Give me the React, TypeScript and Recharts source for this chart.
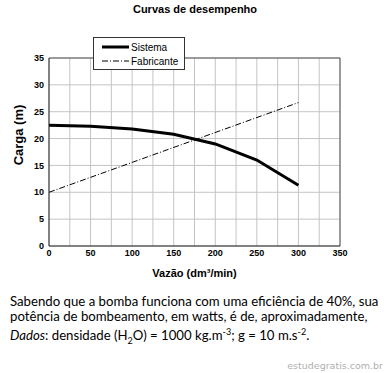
import { LineChart, Line, XAxis, YAxis, CartesianGrid, ReferenceLine, Legend } from "recharts"

const sistemaVazao = [0, 50, 100, 150, 200, 250, 300]
const sistemaCarga = [22.5, 22.3, 21.8, 20.8, 19.0, 16.0, 11.3]
const fabricanteVazao = [0, 300]
const fabricanteCarga = [10, 26.7]
const xTicks = [0, 25, 50, 75, 100, 125, 150, 175, 200, 225, 250, 275, 300, 325, 350]
const yTicks = [0, 5, 10, 15, 20, 25, 30, 35]

const sistema = sistemaVazao.map((x, i) => ({ x, y: sistemaCarga[i] }))
const fabricante = fabricanteVazao.map((x, i) => ({ x, y: fabricanteCarga[i] }))

const axisFont = { fontFamily: "Liberation Sans, Arial, sans-serif", fontSize: 9, fontWeight: 700, fill: "#000" }

function LegendBox() {
  return (
    <div style={{ width: 90, height: 31, border: "1px solid #333", background: "#fff", fontFamily: "Liberation Sans, Arial, sans-serif", fontSize: 10, color: "#000", position: "relative" }}>
      <svg width={90} height={31} style={{ position: "absolute", left: 0, top: 0 }}>
        <line x1={8} x2={35} y1={9} y2={9} stroke="#000" strokeWidth={3} />
        <line x1={8} x2={35} y1={23} y2={23} stroke="#000" strokeWidth={1} strokeDasharray="6 2 1 2" />
        <text x={37} y={12.5} fontSize={10}>Sistema</text>
        <text x={37} y={26.5} fontSize={10}>Fabricante</text>
      </svg>
    </div>
  )
}

export default function App() {
  const small = { fontSize: 9, lineHeight: 0 }
  return (
    <div style={{ position: "absolute", left: 0, top: 0, width: 390, height: 373, background: "#fff", overflow: "hidden" }}>
      <div style={{ position: "absolute", left: 0, top: 3, width: 390, textAlign: "center", fontFamily: "Liberation Sans, Arial, sans-serif", fontWeight: 700, fontSize: 11, color: "#000" }}>
        Curvas de desempenho
      </div>
      <div style={{ position: "absolute", left: 0, top: 0 }}>
        <LineChart width={390} height={290} margin={{ top: 25, right: 50, bottom: 0, left: 0 }}>
          <CartesianGrid stroke="#c4c4c4" strokeWidth={1} />
          <XAxis
            type="number"
            dataKey="x"
            domain={[0, 350]}
            ticks={xTicks}
            tickFormatter={(v: number) => (v % 50 === 0 ? String(v) : "")}
            interval={0}
            tickLine={false}
            tickSize={0}
            tickMargin={4}
            height={44}
            stroke="#222"
            tick={axisFont}
            allowDuplicatedCategory={false}
            label={{
              value: "Vazão (dm³/min)",
              position: "insideBottom",
              offset: 13,
              style: { fontFamily: "Liberation Sans, Arial, sans-serif", fontSize: 11, fontWeight: 700, fill: "#000" },
            }}
          />
          <YAxis
            type="number"
            dataKey="y"
            domain={[0, 35]}
            ticks={yTicks}
            interval={0}
            tickLine={false}
            tickSize={0}
            tickMargin={5}
            width={49}
            stroke="#222"
            tick={axisFont}
            label={{
              content: () => (
                <text transform="translate(23,135) rotate(-90)" textAnchor="middle" fontFamily="Liberation Sans, Arial, sans-serif" fontSize={13} fontWeight={700} fill="#000">
                  Carga (m)
                </text>
              ),
            }}
          />
          <ReferenceLine x={350} stroke="#555" />
          <ReferenceLine y={35} stroke="#555" />
          <Legend
            verticalAlign="top"
            align="left"
            wrapperStyle={{ position: "absolute", left: 93, top: 37, width: 92 }}
            content={() => <LegendBox />}
          />
          <Line data={fabricante} dataKey="y" type="linear" stroke="#000" strokeWidth={1} strokeDasharray="6 2 1 2" dot={false} activeDot={false} isAnimationActive={false} />
          <Line data={sistema} dataKey="y" type="linear" stroke="#000" strokeWidth={3} dot={false} activeDot={false} isAnimationActive={false} />
        </LineChart>
      </div>
      <div style={{ position: "absolute", left: 10, top: 294, width: 380, fontFamily: "Lato, sans-serif", fontSize: 13.2, lineHeight: "15px", color: "#000" }}>
        <div>Sabendo que a bomba funciona com uma eficiência de 40%, sua</div>
        <div>potência de bombeamento, em watts, é de, aproximadamente,</div>
        <div style={{ marginTop: 4 }}>
          <i>Dados</i>: densidade (H<sub style={small}>2</sub>O) = 1000 kg.m<sup style={small}>-3</sup>; g = 10 m.s<sup style={small}>-2</sup>.
        </div>
      </div>
      <div style={{ position: "absolute", right: 7, top: 360, fontFamily: "DejaVu Sans, sans-serif", fontSize: 9.5, color: "#b0b0b0" }}>
        estudegratis.com.br
      </div>
    </div>
  )
}
